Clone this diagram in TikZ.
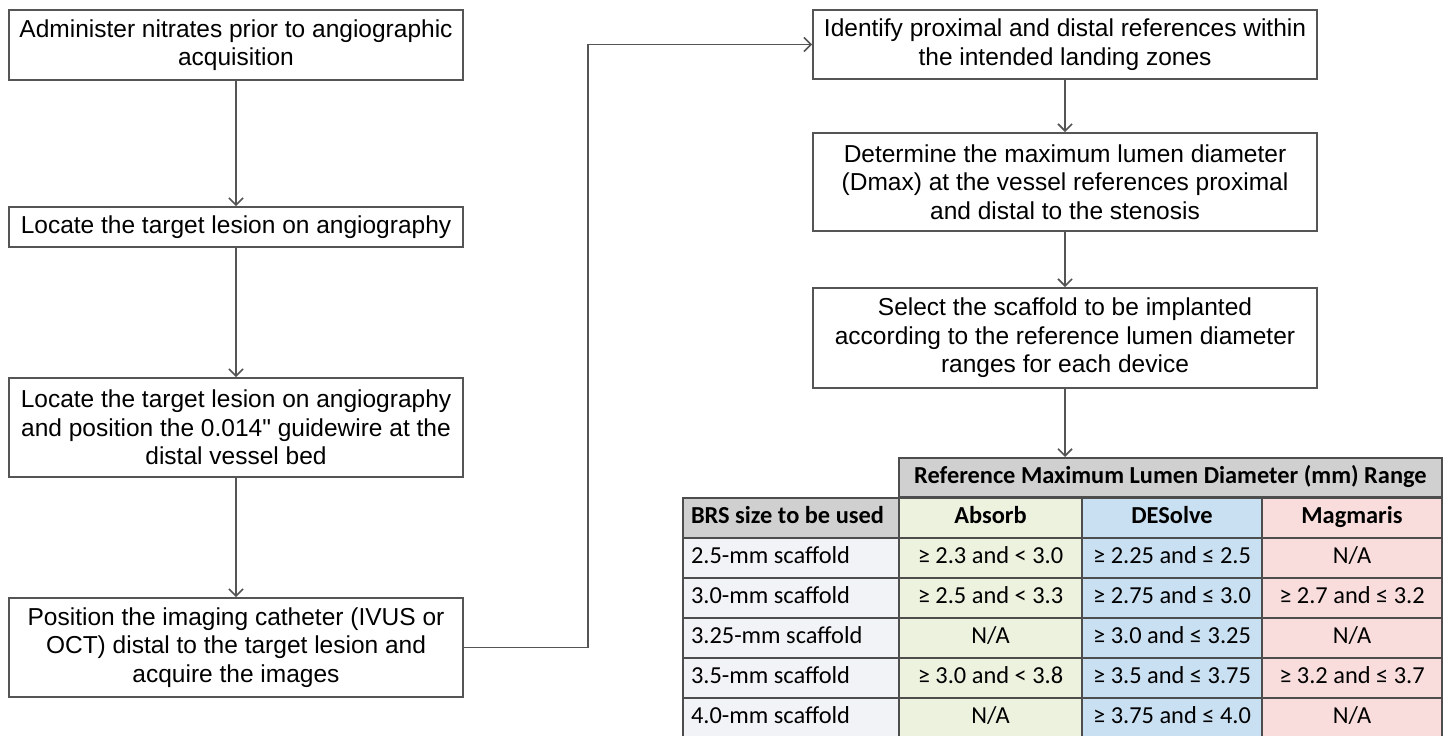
\documentclass[tikz,border=0pt]{standalone}
\usepackage{fontspec}
\setmainfont{Liberation Sans}[Ligatures=TeXOff]
\newfontfamily\tabfont{Carlito}
\usetikzlibrary{arrows.meta}
\definecolor{linegray}{HTML}{555555}
\definecolor{gridgray}{HTML}{4D4D4D}
\definecolor{hdrgray}{HTML}{D0D0D0}
\definecolor{firstc}{HTML}{F2F3F7}
\definecolor{absorbc}{HTML}{EDF2DF}
\definecolor{desolvec}{HTML}{C9DFF2}
\definecolor{magmarisc}{HTML}{F9DDDC}
\tikzset{
stepbox/.style={
	  draw=linegray, line width=0.85pt, align=center, inner sep=1pt,
	    font=\fontsize{12.25}{14.2}\selectfont},
leftbox/.style={stepbox, minimum width=227pt},
rightbox/.style={stepbox, minimum width=252pt},
arr/.style={draw=linegray, line width=0.85pt, -{Straight Barb[length=3.5pt,width=7pt]}},
cell/.style={
	  draw=gridgray, line width=1pt, minimum height=20pt, inner sep=0pt,
	    text height=8.5pt, text depth=2.5pt,
	    font=\tabfont\fontsize{12.2}{14}\selectfont},
firstcol/.style={cell, minimum width=108pt, fill=firstc},
boldcell/.style={font=\tabfont\bfseries\fontsize{12.2}{14}\selectfont}
}
\newcommand{\leftcell}[1]{\makebox[100pt][l]{#1}}

\begin{document}
\begin{tikzpicture}[x=0.5pt, y=-0.5pt]
	\useasboundingbox (0,0) rectangle (1450,735);
	\node[leftbox, minimum height=35pt] (admin) at (236,45)
	  {Administer nitrates prior to angiographic\\acquisition};
	\node[leftbox, minimum height=20pt] (locate) at (236,227)
	  {Locate the target lesion on angiography};
	\node[leftbox, minimum height=49.5pt] (wire) at (236,427.5)
	  {Locate the target lesion on angiography\\and position the 0.014" guidewire at the\\distal vessel bed};
	\node[leftbox, minimum height=49.5pt] (image) at (236,647.5)
	  {Position the imaging catheter (IVUS or\\OCT) distal to the target lesion and\\acquire the images};
	\node[rightbox, minimum height=34.5pt] (refs) at (1065,44.5)
	  {Identify proximal and distal references within\\the intended landing zones};
	\node[rightbox, minimum height=49pt] (dmax) at (1065,182)
	  {Determine the maximum lumen diameter\\(Dmax) at the vessel references proximal\\and distal to the stenosis};
	\node[rightbox, minimum height=50pt] (select) at (1065,338)
	  {Select the scaffold to be implanted\\according to the reference lumen diameter\\ranges for each device};
	\coordinate (bend) at (588,0);

	% table
	\node[cell, boldcell, fill=hdrgray, minimum width=271.5pt, minimum height=19.5pt] (range) at (1170.5,477.5)
	  {Reference Maximum Lumen Diameter (mm) Range};
	\node[firstcol, boldcell, fill=hdrgray] (brs) at (791,517.5) {\leftcell{BRS size to be used}};
	\node[cell, boldcell, fill=absorbc, minimum width=91.5pt] (absorb) at (990.5,517.5) {Absorb};
	\node[cell, boldcell, fill=desolvec, minimum width=90pt] (desolve) at (1172,517.5) {DESolve};
	\node[cell, boldcell, fill=magmarisc, minimum width=90pt] (magmaris) at (1352,517.5) {Magmaris};
	\foreach \y/\sz/\ab/\de/\ma [count=\r] in {
	  557.5/2.5-mm scaffold/{≥ 2.3 and < 3.0}/{≥ 2.25 and ≤ 2.5}/{N/A},
	  597.5/3.0-mm scaffold/{≥ 2.5 and < 3.3}/{≥ 2.75 and ≤ 3.0}/{≥ 2.7 and ≤ 3.2},
	  637.5/3.25-mm scaffold/{N/A}/{≥ 3.0 and ≤ 3.25}/{N/A},
	  677.5/3.5-mm scaffold/{≥ 3.0 and < 3.8}/{≥ 3.5 and ≤ 3.75}/{≥ 3.2 and ≤ 3.7},
	  717.5/4.0-mm scaffold/{N/A}/{≥ 3.75 and ≤ 4.0}/{N/A}}{
	  \node[firstcol] (s\r) at (791,\y) {\leftcell{\sz}};
	  \node[cell, fill=absorbc, minimum width=91.5pt] (a\r) at (990.5,\y) {\ab};
	  \node[cell, fill=desolvec, minimum width=90pt] (d\r) at (1172,\y) {\de};
	  \node[cell, fill=magmarisc, minimum width=90pt] (m\r) at (1352,\y) {\ma};
	}

	\draw[arr] (admin) -- (locate);
	\draw[arr] (locate) -- (wire);
	\draw[arr] (wire) -- (image);
	\draw[arr] (image.east) -- (image.east -| bend) |- (refs.west);
	\draw[arr] (refs) -- (dmax);
	\draw[arr] (dmax) -- (select);
	\draw[arr] (select) -- (select.south |- range.north);
\end{tikzpicture}
\end{document}
